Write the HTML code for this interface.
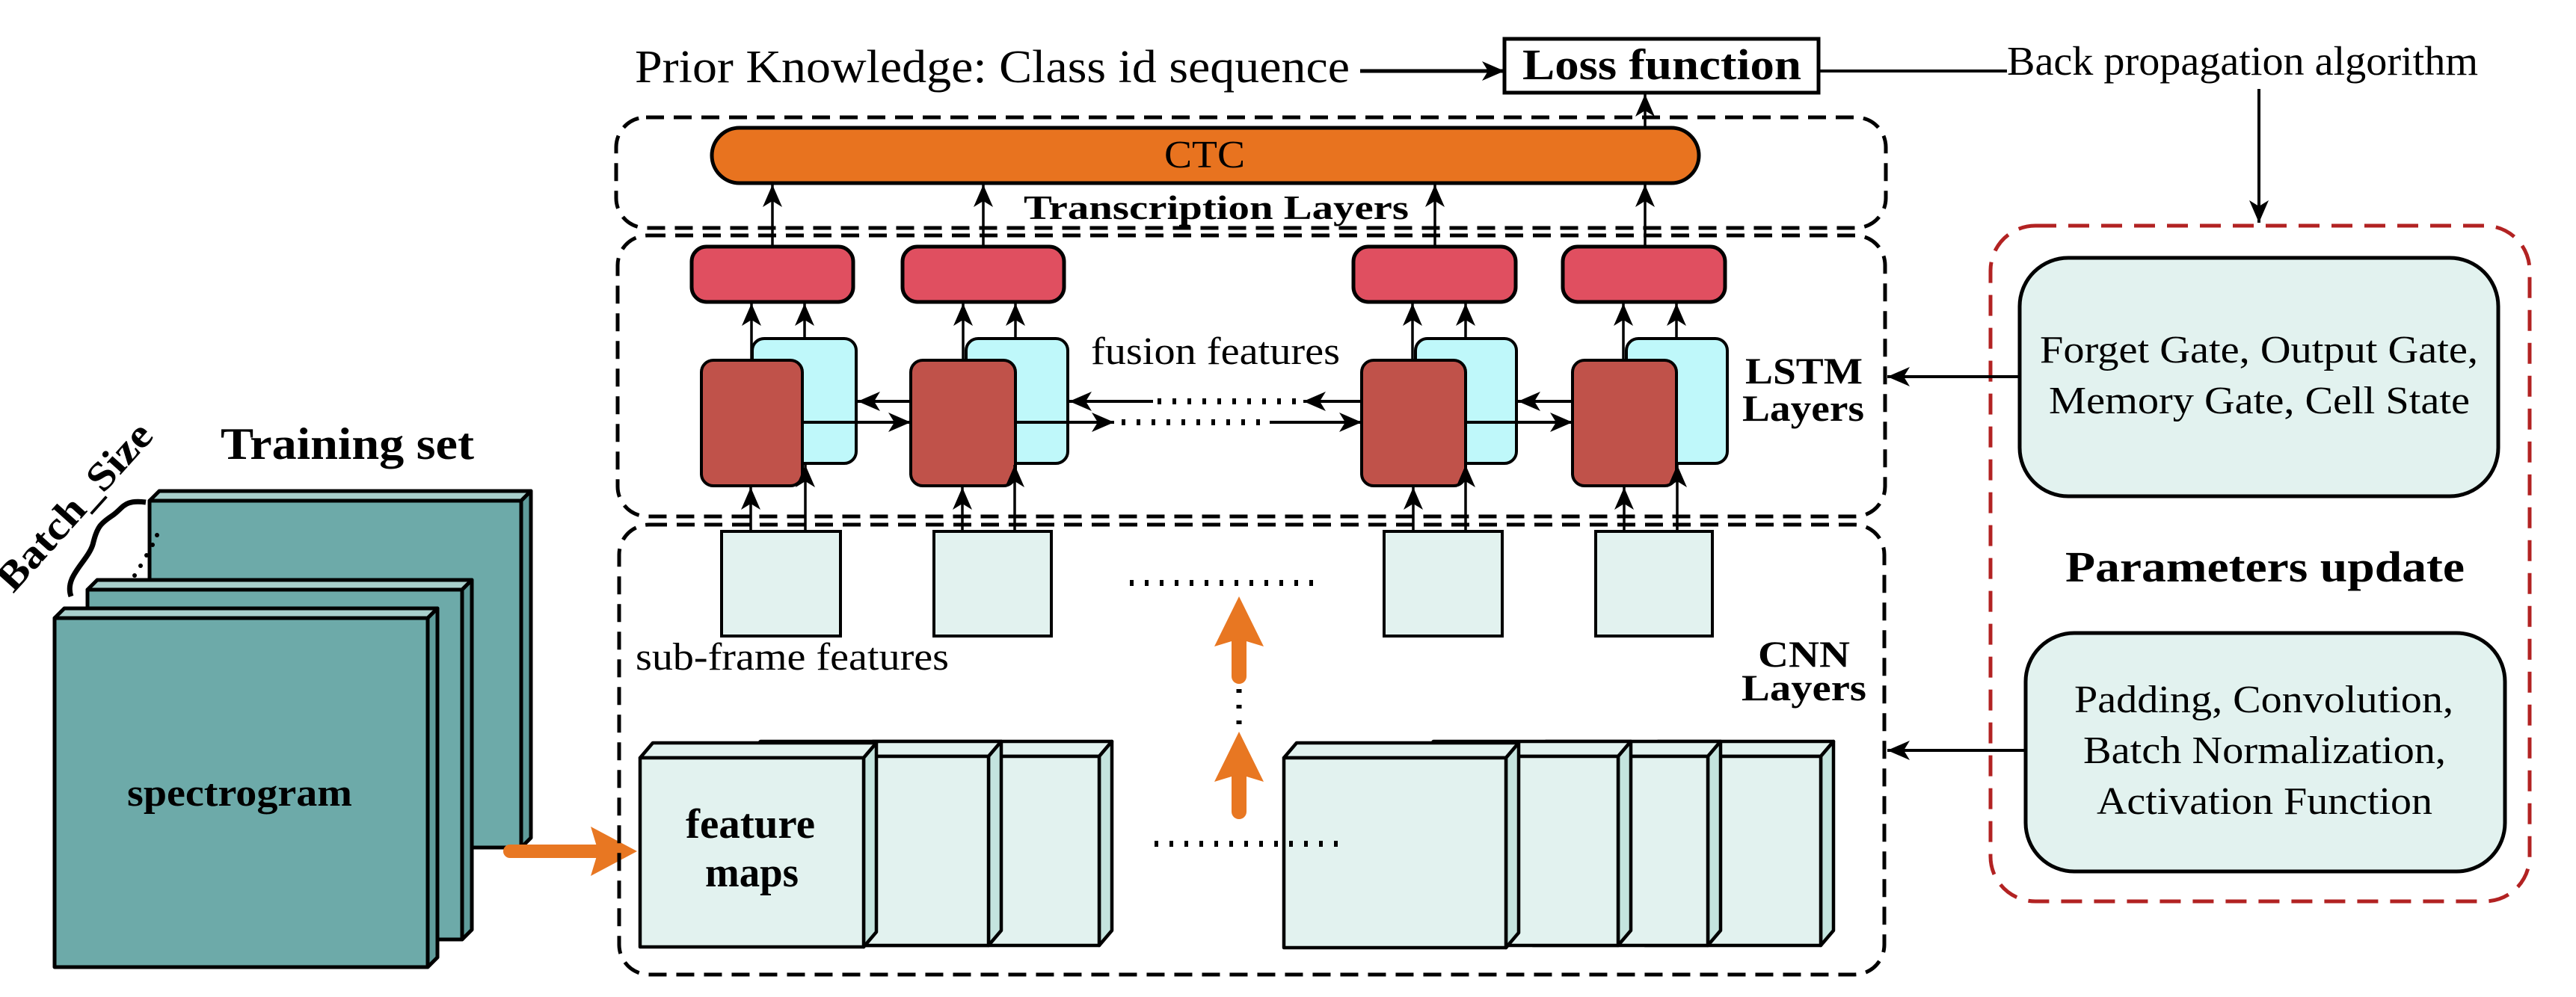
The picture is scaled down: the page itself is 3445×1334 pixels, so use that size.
<!DOCTYPE html>
<html><head><meta charset="utf-8"><style>
html,body{margin:0;padding:0;background:#fff}
svg{display:block}
svg text{font-family:"Liberation Serif","Times New Roman",serif}
</style></head><body>
<svg width="3445" height="1334" viewBox="0 0 3445 1334" xmlns="http://www.w3.org/2000/svg" font-family="'Liberation Serif', serif">
<defs>
<marker id="ah" markerUnits="userSpaceOnUse" markerWidth="34" markerHeight="30" refX="30" refY="15" orient="auto">
<path d="M0,2 L30,15 L0,28 L8,15 Z" fill="#000"/>
</marker>
</defs>
<g font-family="'Liberation Serif', serif">

<!-- Training set -->
<text x="295" y="614" font-size="60" font-weight="bold" textLength="339" lengthAdjust="spacingAndGlyphs">Training set</text>
<g stroke="#000" stroke-width="5" stroke-linejoin="round">
 <polygon points="200,670 213,657 710,657 697,670" fill="#a9cfcc"/>
 <polygon points="697,670 710,657 710,1121 697,1134" fill="#5f9c9b"/>
 <rect x="200" y="670" width="497" height="464" fill="#6daaa9"/>
 <polygon points="117,789 130,776 631,776 618,789" fill="#a9cfcc"/>
 <polygon points="618,789 631,776 631,1244 618,1257" fill="#5f9c9b"/>
 <rect x="117" y="789" width="501" height="468" fill="#6daaa9"/>
 <polygon points="73,827 86,814 585,814 572,827" fill="#a9cfcc"/>
 <polygon points="572,827 585,814 585,1281 572,1294" fill="#5f9c9b"/>
 <rect x="73" y="827" width="499" height="467" fill="#6daaa9"/>
</g>
<text x="170" y="1078" font-size="52" font-weight="bold" textLength="301" lengthAdjust="spacingAndGlyphs">spectrogram</text>
<text transform="translate(112,690) rotate(-48)" x="-141" y="0" font-size="54" font-weight="bold" textLength="283" lengthAdjust="spacingAndGlyphs">Batch_Size</text>
<path d="M95,798 C85,770 120,750 125,725 C130,705 135,700 150,690 C165,680 165,668 195,672" fill="none" stroke="#000" stroke-width="7"/>
<g fill="#000"><circle cx="180" cy="770" r="3"/><circle cx="188" cy="757" r="3"/><circle cx="196" cy="743" r="3"/><circle cx="204" cy="729" r="3"/><circle cx="210" cy="716" r="3"/></g>

<!-- orange arrow to CNN -->
<line x1="682" y1="1139" x2="800" y2="1139" stroke="#e87722" stroke-width="18" stroke-linecap="round"/>
<polygon points="790,1106 852,1139 790,1172 800,1139" fill="#e87722"/>

<!-- top text -->
<text x="849" y="110" font-size="62" textLength="956" lengthAdjust="spacingAndGlyphs">Prior Knowledge: Class id sequence</text>
<line x1="1819" y1="95" x2="2012" y2="95" stroke="#000" stroke-width="5" marker-end="url(#ah)"/>
<rect x="2012" y="52" width="420" height="72" fill="#fff" stroke="#000" stroke-width="5"/>
<text x="2036" y="106" font-size="58" font-weight="bold" textLength="373" lengthAdjust="spacingAndGlyphs">Loss function</text>
<line x1="2432" y1="95" x2="2684" y2="95" stroke="#000" stroke-width="4"/>
<text x="2684" y="100" font-size="55" textLength="630" lengthAdjust="spacingAndGlyphs">Back propagation algorithm</text>
<line x1="3021" y1="119" x2="3021" y2="298" stroke="#000" stroke-width="4" marker-end="url(#ah)"/>

<!-- Dashed boxes -->
<g fill="none" stroke="#000" stroke-width="5" stroke-dasharray="24 13">
 <rect x="824" y="157" width="1698" height="148" rx="40"/>
 <rect x="826" y="315" width="1695" height="376" rx="40"/>
 <rect x="828" y="702" width="1692" height="602" rx="40"/>
</g>

<!-- CTC -->
<rect x="952" y="171" width="1320" height="74" rx="37" fill="#e8731f" stroke="#000" stroke-width="5"/>
<text x="1557" y="224" font-size="52" textLength="108" lengthAdjust="spacingAndGlyphs">CTC</text>
<text x="1369" y="293" font-size="46" font-weight="bold" textLength="515" lengthAdjust="spacingAndGlyphs">Transcription Layers</text>
<g stroke="#000" stroke-width="3.5">
 <line x1="1033" y1="330" x2="1033" y2="247" marker-end="url(#ah)"/>
 <line x1="1315" y1="330" x2="1315" y2="247" marker-end="url(#ah)"/>
 <line x1="1919" y1="330" x2="1919" y2="247" marker-end="url(#ah)"/>
 <line x1="2200" y1="330" x2="2200" y2="247" marker-end="url(#ah)"/>
 <line x1="2200" y1="171" x2="2200" y2="126" marker-end="url(#ah)"/>
</g>

<!-- LSTM cells -->
<g stroke="#000" stroke-width="5">
 <rect x="925" y="330" width="216" height="74" rx="20" fill="#e04f60"/>
 <rect x="1207" y="330" width="216" height="74" rx="20" fill="#e04f60"/>
 <rect x="1810" y="330" width="217" height="74" rx="20" fill="#e04f60"/>
 <rect x="2090" y="330" width="217" height="74" rx="20" fill="#e04f60"/>
</g>
<g stroke="#000" stroke-width="3.5">
 <line x1="1005" y1="482" x2="1005" y2="406" marker-end="url(#ah)"/>
 <line x1="1076" y1="453" x2="1076" y2="406" marker-end="url(#ah)"/>
 <line x1="1288" y1="482" x2="1288" y2="406" marker-end="url(#ah)"/>
 <line x1="1358" y1="453" x2="1358" y2="406" marker-end="url(#ah)"/>
 <line x1="1889" y1="482" x2="1889" y2="406" marker-end="url(#ah)"/>
 <line x1="1960" y1="453" x2="1960" y2="406" marker-end="url(#ah)"/>
 <line x1="2171" y1="482" x2="2171" y2="406" marker-end="url(#ah)"/>
 <line x1="2242" y1="453" x2="2242" y2="406" marker-end="url(#ah)"/>
</g>
<g stroke="#000" stroke-width="4">
 <rect x="1006" y="453" width="139" height="167" rx="16" fill="#bff8fa"/>
 <rect x="1292" y="453" width="136" height="167" rx="16" fill="#bff8fa"/>
 <rect x="1893" y="453" width="135" height="167" rx="16" fill="#bff8fa"/>
 <rect x="2175" y="453" width="135" height="167" rx="16" fill="#bff8fa"/>
 <rect x="938" y="482" width="135" height="168" rx="16" fill="#c0524a"/>
 <rect x="1218" y="482" width="140" height="168" rx="16" fill="#c0524a"/>
 <rect x="1821" y="482" width="139" height="168" rx="16" fill="#c0524a"/>
 <rect x="2103" y="482" width="139" height="168" rx="16" fill="#c0524a"/>
</g>
<g stroke="#000" stroke-width="4">
 <line x1="1218" y1="537" x2="1147" y2="537" marker-end="url(#ah)"/>
 <line x1="1073" y1="565" x2="1218" y2="565" marker-end="url(#ah)"/>
 <line x1="1542" y1="537" x2="1430" y2="537" marker-end="url(#ah)"/>
 <line x1="1358" y1="565" x2="1490" y2="565" marker-end="url(#ah)"/>
 <line x1="1821" y1="537" x2="1743" y2="537" marker-end="url(#ah)"/>
 <line x1="1698" y1="565" x2="1821" y2="565" marker-end="url(#ah)"/>
 <line x1="2103" y1="537" x2="2030" y2="537" marker-end="url(#ah)"/>
 <line x1="1960" y1="565" x2="2103" y2="565" marker-end="url(#ah)"/>
</g>
<g stroke="#000" stroke-width="8" stroke-dasharray="5 15">
 <line x1="1548" y1="537" x2="1735" y2="537"/>
 <line x1="1500" y1="565" x2="1685" y2="565"/>
</g>
<text x="1459" y="487" font-size="52" textLength="333" lengthAdjust="spacingAndGlyphs">fusion features</text>
<text x="2334" y="513" font-size="50" font-weight="bold" textLength="157" lengthAdjust="spacingAndGlyphs">LSTM</text>
<text x="2330" y="563" font-size="50" font-weight="bold" textLength="163" lengthAdjust="spacingAndGlyphs">Layers</text>

<!-- subframe boxes and arrows -->
<g stroke="#000" stroke-width="3.5">
 <line x1="1004" y1="711" x2="1004" y2="652" marker-end="url(#ah)"/>
 <line x1="1077" y1="711" x2="1077" y2="622" marker-end="url(#ah)"/>
 <line x1="1287" y1="711" x2="1287" y2="652" marker-end="url(#ah)"/>
 <line x1="1357" y1="711" x2="1357" y2="622" marker-end="url(#ah)"/>
 <line x1="1890" y1="711" x2="1890" y2="652" marker-end="url(#ah)"/>
 <line x1="1960" y1="711" x2="1960" y2="622" marker-end="url(#ah)"/>
 <line x1="2172" y1="711" x2="2172" y2="652" marker-end="url(#ah)"/>
 <line x1="2243" y1="711" x2="2243" y2="622" marker-end="url(#ah)"/>
</g>
<g stroke="#000" stroke-width="4" fill="#e2f2ef">
 <rect x="965" y="711" width="159" height="140"/>
 <rect x="1249" y="711" width="157" height="140"/>
 <rect x="1851" y="711" width="158" height="140"/>
 <rect x="2134" y="711" width="156" height="140"/>
</g>
<line x1="1511" y1="780" x2="1760" y2="780" stroke="#000" stroke-width="8" stroke-dasharray="5 15"/>
<text x="850" y="896" font-size="52" textLength="419" lengthAdjust="spacingAndGlyphs">sub-frame features</text>
<text x="2351" y="892" font-size="50" font-weight="bold" textLength="123" lengthAdjust="spacingAndGlyphs">CNN</text>
<text x="2329" y="937" font-size="50" font-weight="bold" textLength="167" lengthAdjust="spacingAndGlyphs">Layers</text>

<!-- orange vertical arrows -->
<line x1="1657" y1="905" x2="1657" y2="850" stroke="#e87722" stroke-width="20" stroke-linecap="round"/>
<polygon points="1657,798 1690,865 1657,855 1624,865" fill="#e87722"/>
<line x1="1657" y1="1086" x2="1657" y2="1030" stroke="#e87722" stroke-width="20" stroke-linecap="round"/>
<polygon points="1657,979 1690,1046 1657,1036 1624,1046" fill="#e87722"/>
<line x1="1657" y1="922" x2="1657" y2="970" stroke="#000" stroke-width="7" stroke-dasharray="5 16"/>

<!-- feature map slabs -->
<g stroke="#000" stroke-width="4.5" stroke-linejoin="round">
 <polygon points="1150,1012 1167,992 1487,992 1470,1012" fill="#e2f2ef"/>
 <polygon points="1470,1012 1487,992 1487,1245 1470,1265" fill="#c4e4de"/>
 <rect x="1150" y="1012" width="320" height="253" fill="#e2f2ef"/>
 <polygon points="1000,1012 1017,992 1339,992 1322,1012" fill="#e2f2ef"/>
 <polygon points="1322,1012 1339,992 1339,1245 1322,1265" fill="#c4e4de"/>
 <rect x="1000" y="1012" width="322" height="253" fill="#e2f2ef"/>
 <polygon points="856,1014 873,994 1172,994 1155,1014" fill="#e2f2ef"/>
 <polygon points="1155,1014 1172,994 1172,1247 1155,1267" fill="#c4e4de"/>
 <rect x="856" y="1014" width="299" height="253" fill="#e2f2ef"/>

 <polygon points="2200,1012 2217,992 2452,992 2435,1012" fill="#e2f2ef"/>
 <polygon points="2435,1012 2452,992 2452,1245 2435,1265" fill="#c4e4de"/>
 <rect x="2200" y="1012" width="235" height="253" fill="#e2f2ef"/>
 <polygon points="2050,1012 2067,992 2301,992 2284,1012" fill="#e2f2ef"/>
 <polygon points="2284,1012 2301,992 2301,1245 2284,1265" fill="#c4e4de"/>
 <rect x="2050" y="1012" width="234" height="253" fill="#e2f2ef"/>
 <polygon points="1900,1012 1917,992 2181,992 2164,1012" fill="#e2f2ef"/>
 <polygon points="2164,1012 2181,992 2181,1245 2164,1265" fill="#c4e4de"/>
 <rect x="1900" y="1012" width="264" height="253" fill="#e2f2ef"/>
 <polygon points="1717,1014 1734,994 2031,994 2014,1014" fill="#e2f2ef"/>
 <polygon points="2014,1014 2031,994 2031,1248 2014,1268" fill="#c4e4de"/>
 <rect x="1717" y="1014" width="297" height="254" fill="#e2f2ef"/>
</g>
<text x="917" y="1121" font-size="56" font-weight="bold" textLength="173" lengthAdjust="spacingAndGlyphs">feature</text>
<text x="943" y="1186" font-size="56" font-weight="bold" textLength="125" lengthAdjust="spacingAndGlyphs">maps</text>
<line x1="1544" y1="1129" x2="1795" y2="1129" stroke="#000" stroke-width="8" stroke-dasharray="5 15"/>

<!-- Parameters update -->
<rect x="2662" y="302" width="721" height="904" rx="60" fill="none" stroke="#b22222" stroke-width="5" stroke-dasharray="28 16"/>
<rect x="2701" y="345" width="640" height="319" rx="65" fill="#e2f2ef" stroke="#000" stroke-width="5"/>
<text x="2728" y="485" font-size="52" textLength="586" lengthAdjust="spacingAndGlyphs">Forget Gate, Output Gate,</text>
<text x="2740" y="553" font-size="52" textLength="563" lengthAdjust="spacingAndGlyphs">Memory Gate, Cell State</text>
<text x="2762" y="778" font-size="58" font-weight="bold" textLength="534" lengthAdjust="spacingAndGlyphs">Parameters update</text>
<rect x="2709" y="847" width="641" height="319" rx="65" fill="#e2f2ef" stroke="#000" stroke-width="5"/>
<text x="2774" y="953" font-size="52" textLength="507" lengthAdjust="spacingAndGlyphs">Padding, Convolution,</text>
<text x="2786" y="1021" font-size="52" textLength="485" lengthAdjust="spacingAndGlyphs">Batch Normalization,</text>
<text x="2804" y="1089" font-size="52" textLength="449" lengthAdjust="spacingAndGlyphs">Activation Function</text>
<line x1="2701" y1="504" x2="2524" y2="504" stroke="#000" stroke-width="4" marker-end="url(#ah)"/>
<line x1="2709" y1="1004" x2="2524" y2="1004" stroke="#000" stroke-width="4" marker-end="url(#ah)"/>
</g>
</svg>
</body></html>
